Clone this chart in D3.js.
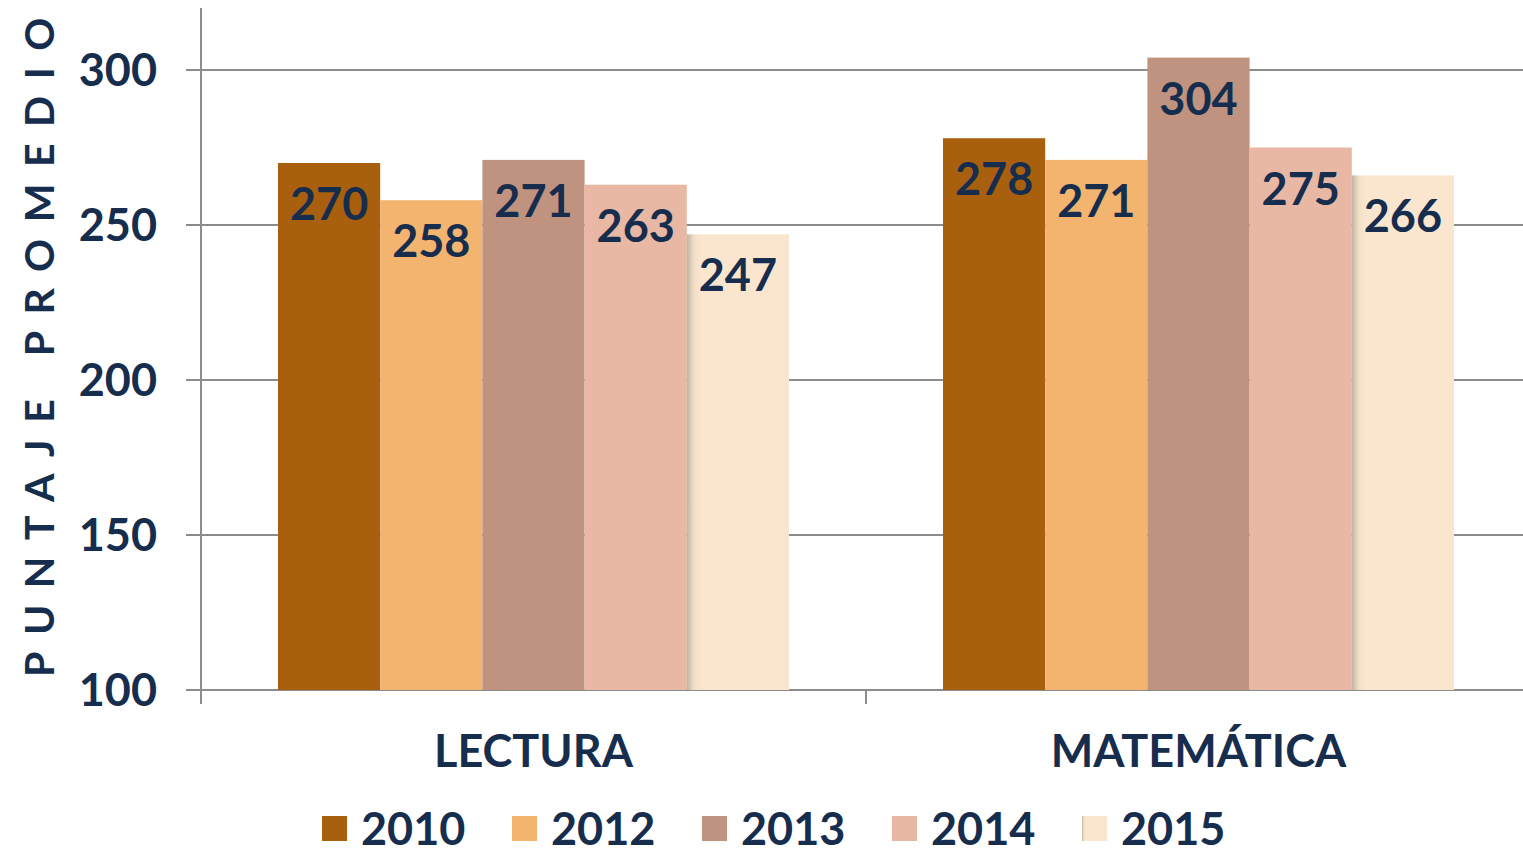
<!DOCTYPE html>
<html>
<head>
<meta charset="utf-8">
<script src="https://cdn.jsdelivr.net/npm/d3@7"></script>
<style>
  html, body { margin: 0; padding: 0; background: #fff; }
  svg { display: block; font-family: Lato, "Noto Sans", sans-serif; font-weight: bold; }
</style>
</head>
<body>
<svg id="chart" width="1523" height="849"></svg>
<script>
  var categories = ['LECTURA', 'MATEMÁTICA'];
  var years = ['2010', '2012', '2013', '2014', '2015'];
  var lectura = [270, 258, 271, 263, 247];
  var matematica = [278, 271, 304, 275, 266];
  var yTicks = [100, 150, 200, 250, 300];
  var colors = ['#a8600f', '#f2b46e', '#c09380', '#e8b8a4', '#fae6cf'];

  var textColor = '#172d4d';
  var gridColor = '#8c8c8c';

  var rows = [lectura, matematica];
  var data = [];
  categories.forEach(function(c, i) {
    years.forEach(function(yr, j) {
      data.push({cat: c, year: yr, value: rows[i][j], idx: j});
    });
  });

  var svg = d3.select('#chart');
  var plotLeft = 201, plotRight = 1531, plotTop = 8, plotBottom = 690;

  var x = d3.scaleBand().domain(categories).range([plotLeft, plotRight]).padding(0);
  var groupPad = 77;
  var xi = d3.scaleBand().domain(years).range([groupPad, x.bandwidth() - groupPad]).padding(0);
  var y = d3.scaleLinear().domain([100, 320]).range([plotBottom, plotTop]);

  var defs = svg.append('defs');
  var grad = defs.append('linearGradient').attr('id', 'g2015');
  grad.append('stop').attr('offset', '0%').attr('stop-color', '#bfb3a5');
  grad.append('stop').attr('offset', '7%').attr('stop-color', '#f3dfc8');
  grad.append('stop').attr('offset', '14%').attr('stop-color', colors[4]);
  grad.append('stop').attr('offset', '100%').attr('stop-color', colors[4]);

  // gridlines
  svg.append('g')
    .selectAll('line')
    .data(yTicks)
    .enter()
    .append('line')
    .attr('x1', plotLeft - 15)
    .attr('x2', 1523)
    .attr('y1', function(d) { return y(d); })
    .attr('y2', function(d) { return y(d); })
    .attr('stroke', gridColor)
    .attr('stroke-width', 2);

  // y axis line + category tick
  svg.append('line').attr('x1', plotLeft).attr('x2', plotLeft).attr('y1', plotTop).attr('y2', plotBottom + 14)
    .attr('stroke', gridColor).attr('stroke-width', 2);
  svg.append('line').attr('x1', x(categories[1])).attr('x2', x(categories[1]))
    .attr('y1', plotBottom).attr('y2', plotBottom + 14)
    .attr('stroke', gridColor).attr('stroke-width', 2);

  // tick labels
  svg.append('g')
    .selectAll('text')
    .data(yTicks)
    .enter()
    .append('text')
    .attr('x', 157)
    .attr('y', function(d) { return y(d) + 16; })
    .attr('text-anchor', 'end')
    .attr('font-size', 45)
    .attr('fill', textColor)
    .text(function(d) { return d; });

  // bars
  var bars = svg.append('g')
    .selectAll('g')
    .data(data)
    .enter()
    .append('g')
    .attr('transform', function(d) { return 'translate(' + (x(d.cat) + xi(d.year)) + ',0)'; });

  bars.append('rect')
    .attr('x', 0)
    .attr('width', xi.bandwidth())
    .attr('y', function(d) { return y(d.value); })
    .attr('height', function(d) { return plotBottom - y(d.value); })
    .attr('fill', function(d) { return d.idx === 4 ? 'url(#g2015)' : colors[d.idx]; });

  bars.append('text')
    .attr('x', xi.bandwidth() / 2)
    .attr('y', function(d) { return y(d.value) + 57; })
    .attr('text-anchor', 'middle')
    .attr('font-size', 45)
    .attr('fill', textColor)
    .text(function(d) { return d.value; });

  // category labels
  svg.append('g')
    .selectAll('text')
    .data(categories)
    .enter()
    .append('text')
    .attr('x', function(d) { return x(d) + x.bandwidth() / 2; })
    .attr('y', 767)
    .attr('text-anchor', 'middle')
    .attr('font-size', 45)
    .attr('fill', textColor)
    .text(function(d) { return d; });

  // y title
  svg.append('text')
    .attr('transform', 'translate(54,339) rotate(-90)')
    .attr('text-anchor', 'middle')
    .attr('font-size', 41)
    .attr('letter-spacing', 16.5)
    .attr('fill', textColor)
    .text('PUNTAJE PROMEDIO');

  // legend
  var legend = svg.append('g')
    .selectAll('g')
    .data(years)
    .enter()
    .append('g')
    .attr('transform', function(d, i) { return 'translate(' + (322 + i * 190) + ',816)'; });

  legend.append('rect')
    .attr('width', 25)
    .attr('height', 25)
    .attr('fill', function(d, i) { return i === 4 ? 'url(#g2015)' : colors[i]; });

  legend.append('text')
    .attr('x', 39)
    .attr('y', 29)
    .attr('font-size', 45)
    .attr('fill', textColor)
    .text(function(d) { return d; });
</script>
</body>
</html>
